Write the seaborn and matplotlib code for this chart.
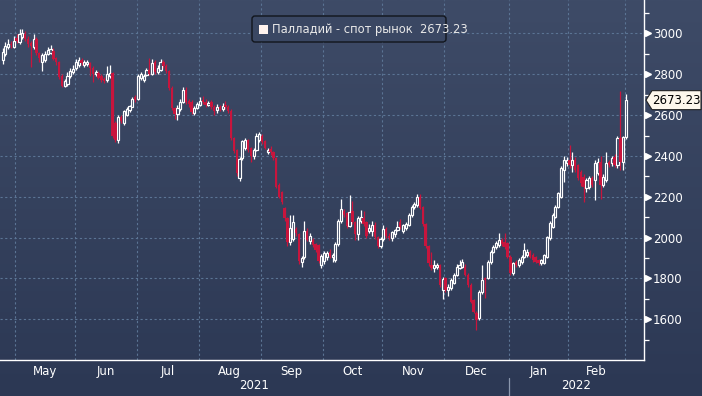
"""Palladium spot candlestick chart (Bloomberg style)."""

import numpy as np
import pandas as pd
import matplotlib
matplotlib.use("Agg")
import matplotlib.pyplot as plt
import matplotlib.transforms as mtransforms
from matplotlib.colors import LinearSegmentedColormap
from matplotlib.patches import FancyBboxPatch, Rectangle, Polygon
import seaborn as sns

# --- data ----------------------------------------------------------------
dates = pd.bdate_range("2021-04-26", "2022-03-01")

opens = [
    2870, 2900, 2935, 2950, 2935, 2980, 2960, 2985, 2995, 2975,
    2955, 2935, 2975, 2905, 2862, 2870, 2900, 2905, 2915, 2880,
    2860, 2790, 2745, 2750, 2790, 2810, 2830, 2845, 2870, 2845,
    2850, 2855, 2830, 2800, 2805, 2790, 2775, 2770, 2790, 2805,
    2560, 2480, 2590, 2560, 2600, 2625, 2640, 2690, 2680, 2780,
    2770, 2795, 2820, 2800, 2860, 2810, 2820, 2860, 2840, 2815,
    2735, 2635, 2605, 2630, 2665, 2725, 2670, 2665, 2610, 2635,
    2650, 2675, 2665, 2650, 2665, 2640, 2625, 2640, 2630, 2650,
    2640, 2620, 2490, 2430, 2290, 2390, 2440, 2478, 2440, 2400,
    2430, 2480, 2500, 2475, 2420, 2435, 2420, 2390, 2258, 2225,
    2145, 2095, 1980, 1995, 2040, 2015, 1880, 1905, 2030, 1985,
    1990, 1970, 1965, 1865, 1885, 1905, 1930, 1905, 1890, 1970,
    2080, 2130, 2120, 2055, 2130, 2075, 2015, 2080, 2095, 2075,
    2030, 2030, 2060, 2005, 1960, 1995, 2040, 2010, 2000, 2015,
    2035, 2075, 2030, 2045, 2060, 2110, 2150, 2160, 2200, 2150,
    2065, 1960, 1866, 1852, 1858, 1866, 1745, 1800, 1742, 1752,
    1776, 1817, 1850, 1858, 1858, 1817, 1768, 1694, 1629, 1605,
    1735, 1800, 1801, 1882, 1931, 1956, 1964, 1990, 1980, 1972,
    1907, 1825, 1882, 1866, 1882, 1907, 1915, 1931, 1915, 1907,
    1890, 1874, 1877, 1907, 1997, 2054, 2103, 2152, 2201, 2331,
    2364, 2380, 2356, 2380, 2356, 2323, 2299, 2242, 2250, 2290,
    2282, 2315, 2372, 2258, 2282, 2372, 2364, 2397, 2356, 2486,
    2372, 2495,
]
highs = [
    2930, 2960, 2975, 2965, 2990, 2995, 3020, 3022, 3010, 2990,
    2965, 2995, 2985, 2910, 2905, 2915, 2935, 2945, 2930, 2885,
    2865, 2800, 2775, 2810, 2830, 2845, 2875, 2885, 2880, 2870,
    2868, 2860, 2840, 2820, 2815, 2800, 2785, 2840, 2845, 2810,
    2570, 2600, 2600, 2625, 2640, 2650, 2690, 2700, 2800, 2810,
    2800, 2830, 2880, 2875, 2870, 2845, 2875, 2870, 2850, 2820,
    2745, 2640, 2650, 2680, 2740, 2740, 2680, 2675, 2645, 2665,
    2690, 2695, 2680, 2670, 2675, 2650, 2655, 2650, 2660, 2670,
    2650, 2630, 2495, 2435, 2395, 2480, 2490, 2485, 2445, 2440,
    2510, 2515, 2505, 2480, 2440, 2450, 2425, 2395, 2265, 2230,
    2150, 2100, 2110, 2110, 2050, 2020, 1910, 2080, 2045, 2020,
    2000, 1975, 1970, 1920, 1935, 1935, 1945, 1925, 1980, 2090,
    2190, 2140, 2125, 2210, 2180, 2080, 2105, 2135, 2130, 2080,
    2065, 2080, 2075, 2010, 2005, 2060, 2050, 2020, 2030, 2040,
    2080, 2090, 2065, 2075, 2120, 2160, 2175, 2215, 2215, 2155,
    2070, 1965, 1930, 1890, 1875, 1870, 1805, 1805, 1770, 1800,
    1825, 1870, 1890, 1895, 1870, 1825, 1775, 1700, 1640, 1745,
    1866, 1805, 1890, 1940, 1965, 1985, 2021, 2000, 2021, 1980,
    1915, 1880, 1890, 1900, 1915, 1972, 1945, 1940, 1925, 1912,
    1895, 1895, 1920, 2010, 2080, 2120, 2160, 2225, 2350, 2400,
    2395, 2454, 2420, 2395, 2360, 2330, 2310, 2290, 2300, 2300,
    2380, 2390, 2400, 2310, 2420, 2380, 2400, 2410, 2500, 2720,
    2500, 2702,
]
lows = [
    2850, 2890, 2925, 2930, 2930, 2955, 2950, 2975, 2965, 2935,
    2835, 2925, 2895, 2860, 2815, 2860, 2895, 2900, 2870, 2845,
    2775, 2740, 2740, 2745, 2780, 2800, 2820, 2835, 2845, 2835,
    2840, 2790, 2760, 2790, 2775, 2760, 2755, 2760, 2780, 2490,
    2470, 2465, 2560, 2550, 2595, 2615, 2640, 2665, 2675, 2770,
    2760, 2790, 2795, 2795, 2800, 2800, 2815, 2830, 2805, 2725,
    2625, 2580, 2575, 2620, 2660, 2655, 2640, 2605, 2600, 2630,
    2645, 2655, 2640, 2645, 2630, 2600, 2610, 2620, 2620, 2630,
    2610, 2480, 2415, 2300, 2275, 2380, 2430, 2420, 2370, 2385,
    2425, 2470, 2460, 2435, 2410, 2405, 2380, 2245, 2195, 2165,
    2080, 1960, 1965, 1985, 2010, 1870, 1855, 1895, 1985, 1970,
    1955, 1930, 1875, 1850, 1870, 1890, 1900, 1880, 1880, 1960,
    2070, 2100, 2045, 2050, 2065, 1990, 1990, 2070, 2055, 2000,
    2020, 2010, 1995, 1950, 1950, 1985, 2000, 1990, 1985, 2005,
    2030, 2040, 2020, 2035, 2055, 2100, 2140, 2150, 2140, 2055,
    1950, 1860, 1840, 1830, 1845, 1760, 1700, 1735, 1712, 1745,
    1770, 1810, 1845, 1850, 1810, 1760, 1680, 1630, 1547, 1595,
    1725, 1703, 1795, 1870, 1925, 1945, 1955, 1960, 1945, 1900,
    1815, 1815, 1858, 1855, 1870, 1900, 1905, 1900, 1880, 1875,
    1865, 1865, 1870, 1900, 1990, 2045, 2095, 2145, 2195, 2270,
    2350, 2340, 2320, 2320, 2280, 2255, 2176, 2225, 2240, 2250,
    2185, 2305, 2190, 2250, 2270, 2345, 2350, 2345, 2340, 2330,
    2330, 2485,
]
closes = [
    2910, 2940, 2950, 2945, 2965, 2965, 2995, 3000, 2975, 2950,
    2940, 2975, 2905, 2880, 2895, 2900, 2920, 2925, 2875, 2860,
    2785, 2745, 2765, 2790, 2815, 2825, 2860, 2870, 2855, 2860,
    2858, 2830, 2800, 2810, 2780, 2770, 2765, 2800, 2805, 2500,
    2480, 2590, 2570, 2620, 2630, 2645, 2680, 2675, 2790, 2800,
    2790, 2820, 2800, 2855, 2810, 2830, 2860, 2840, 2815, 2735,
    2635, 2605, 2635, 2665, 2725, 2665, 2655, 2615, 2635, 2655,
    2670, 2665, 2650, 2660, 2640, 2620, 2640, 2630, 2645, 2640,
    2620, 2490, 2425, 2315, 2385, 2475, 2478, 2430, 2400, 2430,
    2500, 2505, 2470, 2440, 2430, 2420, 2390, 2250, 2200, 2175,
    2095, 1980, 2045, 2075, 2020, 1885, 1900, 2030, 1990, 2010,
    1965, 1940, 1885, 1910, 1925, 1925, 1910, 1915, 1970, 2080,
    2140, 2110, 2055, 2125, 2075, 2015, 2095, 2100, 2065, 2010,
    2045, 2060, 2005, 1960, 1995, 2040, 2010, 2000, 2025, 2035,
    2050, 2050, 2060, 2065, 2110, 2150, 2165, 2200, 2145, 2065,
    1960, 1875, 1852, 1866, 1866, 1768, 1795, 1745, 1760, 1792,
    1817, 1858, 1866, 1882, 1817, 1768, 1686, 1637, 1596, 1735,
    1792, 1790, 1882, 1931, 1956, 1972, 1988, 1970, 1956, 1907,
    1825, 1874, 1866, 1890, 1907, 1939, 1931, 1907, 1890, 1882,
    1874, 1890, 1915, 2005, 2070, 2111, 2152, 2217, 2339, 2380,
    2380, 2356, 2380, 2331, 2290, 2266, 2250, 2282, 2290, 2258,
    2364, 2372, 2258, 2299, 2364, 2356, 2388, 2356, 2486, 2372,
    2495, 2673.23,
]

y_ticks = [1600, 1800, 2000, 2200, 2400, 2600, 2800, 3000]
y_minor = [1500, 1700, 1900, 2100, 2300, 2500, 2700, 2900, 3100]
month_names = ["May", "Jun", "Jul", "Aug", "Sep", "Oct", "Nov", "Dec", "Jan", "Feb"]
series_name = "Палладий - спот рынок"

# --- style ---------------------------------------------------------------
W, H = 702, 396
BG_TOP, BG_BOT = "#3e4b67", "#2c3854"
GRID = "#5b7494"
UP = "#ffffff"
DOWN = "#c8153d"

sns.set_theme(style="dark")
plt.rcParams["font.family"] = ["DejaVu Sans"]

fig = plt.figure(figsize=(W / 100, H / 100), dpi=100)

# gradient background
bg = fig.add_axes([0, 0, 1, 1], zorder=0)
grad = np.linspace(0, 1, 256).reshape(-1, 1)
bg.imshow(grad, aspect="auto", extent=[0, 1, 0, 1], origin="lower",
          cmap=LinearSegmentedColormap.from_list("bg", [BG_BOT, BG_TOP]))
bg.axis("off")

ax = fig.add_axes([0, 36 / H, 644 / W, 360 / H], zorder=1)
ax.patch.set_alpha(0)

df = pd.DataFrame({"date": dates, "open": opens, "high": highs,
                   "low": lows, "close": closes})
df["x"] = np.arange(len(df))
df["top"] = df[["open", "close"]].max(axis=1)
df["bot"] = df[["open", "close"]].min(axis=1)
up = df[df["close"] >= df["open"]]
dn = df[df["close"] < df["open"]]

# wicks
ax.vlines(up["x"], up["low"], up["bot"], color=UP, lw=0.9, zorder=3)
ax.vlines(up["x"], up["top"], up["high"], color=UP, lw=0.9, zorder=3)
ax.vlines(dn["x"], dn["low"], dn["high"], color=DOWN, lw=0.9, zorder=3)
# bodies
ax.bar(up["x"], (up["top"] - up["bot"]).clip(lower=2), bottom=up["bot"],
       width=0.75, facecolor="none", edgecolor=UP, lw=0.85, zorder=4)
ax.bar(dn["x"], dn["top"] - dn["bot"], bottom=dn["bot"],
       width=0.85, color=DOWN, lw=0, zorder=4)

ax.set_xlim(-0.92, 227.4)
ax.set_ylim(1400, 3164)

# month boundaries and label positions
month_start = np.flatnonzero(df["date"].dt.month.diff().fillna(0) != 0)
bounds = month_start - 0.5
centers = (bounds[:-1] + bounds[1:]) / 2

ax.set_xticks(bounds)
ax.set_xticklabels([])
ax.set_xticks(centers, minor=True)
ax.set_xticklabels(month_names, minor=True)
ax.tick_params(axis="x", which="major", length=5, width=0.9, color="white",
               direction="out")
ax.tick_params(axis="x", which="minor", length=0, pad=3.5, labelsize=8.5,
               labelcolor="white")

ax.yaxis.tick_right()
ax.set_yticks(y_ticks)
ax.set_yticks(y_minor, minor=True)
ax.tick_params(axis="y", which="major", length=0, pad=6.5, labelsize=8.5,
               labelcolor="white")
ax.tick_params(axis="y", which="minor", length=3.5, width=0.9, color="white",
               direction="out")

ax.grid(True, which="major", color=GRID, lw=0.8, ls=(0, (2, 2.2)))
ax.set_axisbelow(True)

for side in ["top", "left"]:
    ax.spines[side].set_visible(False)
for side in ["right", "bottom"]:
    ax.spines[side].set_visible(True)
    ax.spines[side].set_color("white")
    ax.spines[side].set_linewidth(1.0)

# arrow markers on major y ticks
ytrans = (mtransforms.blended_transform_factory(ax.transAxes, ax.transData)
          + mtransforms.ScaledTranslation(3 / 72, 0, fig.dpi_scale_trans))
ax.plot(np.ones(len(y_ticks)), y_ticks, ls="none", marker=">", ms=5,
        color="white", mec="white", transform=ytrans, clip_on=False, zorder=5)

# year labels and separator
xtrans = mtransforms.blended_transform_factory(ax.transData, ax.transAxes)
jan = bounds[month_names.index("Jan")]
x0, x1 = ax.get_xlim()
ax.text((x0 + jan) / 2, -0.07, "2021", transform=xtrans, ha="center",
        va="center", color="white", fontsize=8.5)
ax.text((jan + x1) / 2, -0.07, "2022", transform=xtrans, ha="center",
        va="center", color="white", fontsize=8.5)
ax.plot([jan, jan], [-0.05, -0.11], transform=xtrans, color="#8b97ad",
        lw=0.9, clip_on=False)

# legend box (pixel coords)
pix = mtransforms.IdentityTransform()
last = closes[-1]
fig.patches.append(FancyBboxPatch((252, H - 42), 194, 26,
                                  boxstyle="round,pad=0,rounding_size=3",
                                  transform=pix, fc="#3a4763", ec="#11151c",
                                  lw=1.0, zorder=6))
fig.patches.append(Rectangle((259, H - 34), 9, 9, transform=pix,
                             fc="#fff3ee", ec="none", zorder=7))
fig.text(272, H - 29, f"{series_name}  {last:.2f}", transform=pix,
         color="#e8e8e8", fontsize=8.3, va="center", ha="left", zorder=7)

# last price tag
ly = ax.transData.transform((0, last))[1]
tag = Polygon([(646, ly), (652, ly + 9.5), (701, ly + 9.5), (701, ly - 9.5),
               (652, ly - 9.5)], closed=True, transform=pix,
              fc="#fdf7ec", ec="#222222", lw=0.8, zorder=6)
fig.patches.append(tag)
fig.text(676, ly, f"{last:.2f}", transform=pix, color="black",
         fontsize=8.5, va="center", ha="center", zorder=7)

fig.savefig("out.png", dpi=100)
